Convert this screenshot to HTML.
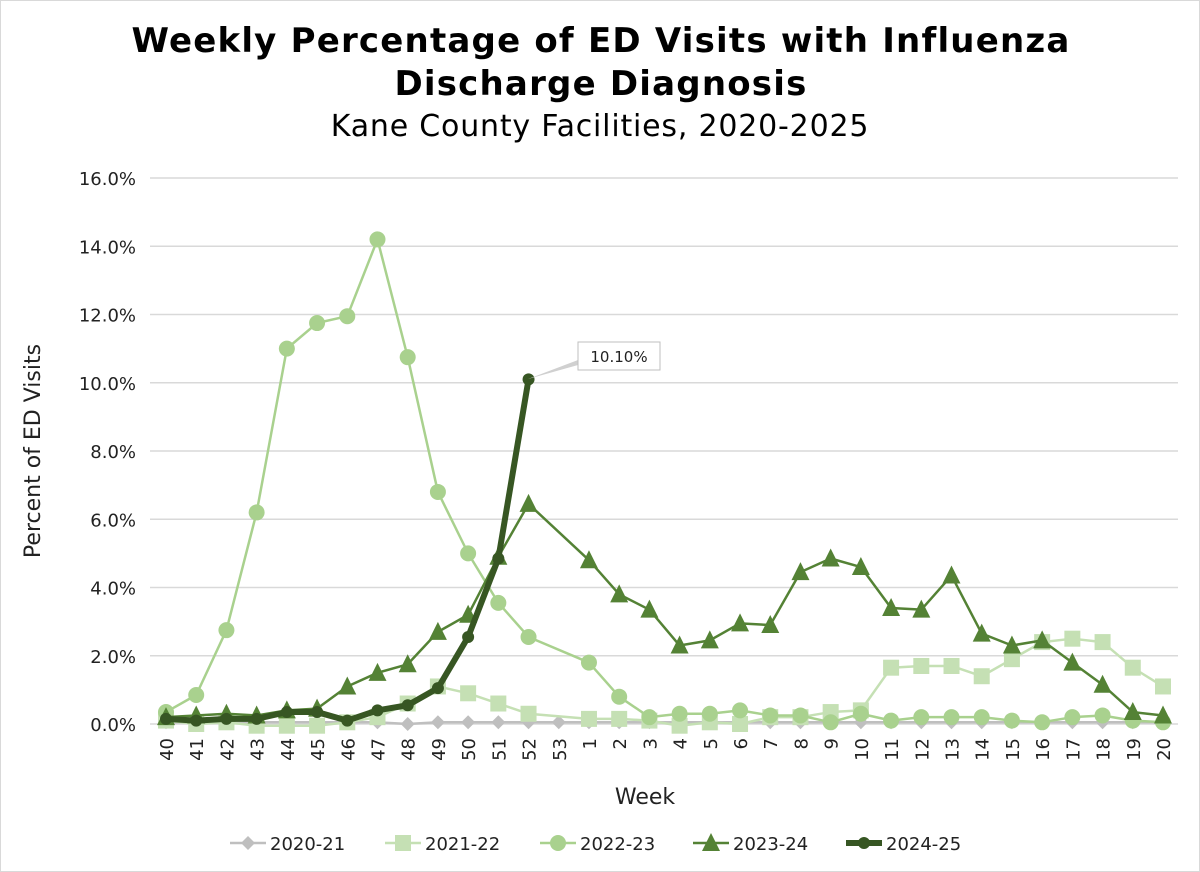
<!DOCTYPE html>
<html><head><meta charset="utf-8"><style>
html,body{margin:0;padding:0;background:#fff;width:1200px;height:872px;overflow:hidden}
svg text{font-family:"DejaVu Sans","Liberation Sans",sans-serif;fill:#222}
</style></head><body>
<svg id="chart" width="1200" height="872" xmlns="http://www.w3.org/2000/svg">
<rect x="0.5" y="0.5" width="1199" height="871" fill="#fff" stroke="#d9d9d9"/>
<text x="601" y="52" text-anchor="middle" font-size="34" font-weight="bold" letter-spacing="1.2" style="fill:#000">Weekly Percentage of ED Visits with Influenza</text>
<text x="601" y="95" text-anchor="middle" font-size="34" font-weight="bold" letter-spacing="1.2" style="fill:#000">Discharge Diagnosis</text>
<text x="600" y="136" text-anchor="middle" font-size="30" letter-spacing="0.8" style="fill:#000">Kane County Facilities, 2020-2025</text>
<text transform="translate(40,451) rotate(-90)" text-anchor="middle" font-size="22">Percent of ED Visits</text>
<text x="645" y="804" text-anchor="middle" font-size="22">Week</text>
<g id="grid"></g><g id="series"></g><g id="ticks"></g><g id="legend"></g>
<g>
<polygon points="528,379 578,360 578,365" fill="#d0d0d0"/>
<rect x="578" y="342" width="82" height="28" fill="#fff" stroke="#bfbfbf"/>
<text x="619" y="362" text-anchor="middle" font-size="15">10.10%</text>
</g>
</svg>
<script>
const weeks=["40","41","42","43","44","45","46","47","48","49","50","51","52","53","1","2","3","4","5","6","7","8","9","10","11","12","13","14","15","16","17","18","19","20"];
const yTicks=[0,2,4,6,8,10,12,14,16];
const s2021=[0.05,0.05,0.05,0.05,0.05,0.05,0.05,0.05,0.0,0.05,0.05,0.05,0.05,0.05,0.05,0.05,0.05,0.05,0.05,0.05,0.05,0.05,0.05,0.05,0.05,0.05,0.05,0.05,0.05,0.05,0.05,0.05,0.05,0.05];
const s2122=[0.1,0,0.05,-0.05,-0.05,-0.05,0.05,0.2,0.6,1.1,0.9,0.6,0.3,null,0.15,0.15,0.1,-0.05,0.05,0.0,0.2,0.2,0.35,0.4,1.65,1.7,1.7,1.4,1.9,2.4,2.5,2.4,1.65,1.1];
const s2223=[0.35,0.85,2.75,6.2,11.0,11.75,11.95,14.2,10.75,6.8,5.0,3.55,2.55,null,1.8,0.8,0.2,0.3,0.3,0.4,0.25,0.25,0.05,0.3,0.1,0.2,0.2,0.2,0.1,0.05,0.2,0.25,0.1,0.05];
const s2324=[0.2,0.25,0.3,0.25,0.4,0.45,1.1,1.5,1.75,2.7,3.2,4.9,6.45,null,4.8,3.8,3.35,2.3,2.45,2.95,2.9,4.45,4.85,4.6,3.4,3.35,4.35,2.65,2.3,2.45,1.8,1.15,0.35,0.25];
const s2425=[0.15,0.1,0.15,0.15,0.35,0.35,0.1,0.4,0.55,1.05,2.55,4.85,10.1];
const seriesNames=["2020-21","2021-22","2022-23","2023-24","2024-25"];
const NS="http://www.w3.org/2000/svg";
const x0=166,x1=1163,y0=724,yTop=178;
const xs=i=>x0+i*(x1-x0)/(weeks.length-1);
const ys=v=>y0-(v/16)*(y0-yTop);
function mk(tag,attrs,parent){const e=document.createElementNS(NS,tag);for(const k in attrs)e.setAttribute(k,attrs[k]);parent.appendChild(e);return e;}
const grid=document.getElementById('grid'),ticks=document.getElementById('ticks'),ser=document.getElementById('series'),leg=document.getElementById('legend');
yTicks.forEach(t=>{
 const l=mk('line',{x1:150,x2:1178,y1:ys(t),y2:ys(t),stroke:'#d9d9d9','stroke-width':1.5},grid);
 
 
 const tx=mk('text',{x:136,y:ys(t)+7,'text-anchor':'end','font-size':18},ticks);
 tx.textContent=t.toFixed(1)+'%';
 
 
});
weeks.forEach((w,i)=>{
 const tx=mk('text',{transform:`translate(${xs(i)+7},${738}) rotate(-90)`,'text-anchor':'end','font-size':18},ticks);
 tx.textContent=w;
 
 
});
function marker(type,x,y,color,size,g){
 if(type==='diamond')return mk('polygon',{points:`${x},${y-size} ${x+size},${y} ${x},${y+size} ${x-size},${y}`,fill:color},g);
 if(type==='square')return mk('rect',{x:x-size,y:y-size,width:2*size,height:2*size,fill:color},g);
 if(type==='circle')return mk('circle',{cx:x,cy:y,r:size,fill:color},g);
 if(type==='triangle')return mk('polygon',{points:`${x},${y-size-1} ${x+size},${y+size-1} ${x-size},${y+size-1}`,fill:color},g);
}
const defs=[
 {data:s2021,color:'#bfbfbf',m:'diamond',ms:7,w:2.5},
 {data:s2122,color:'#c5e0b4',m:'square',ms:8,w:2.5},
 {data:s2223,color:'#a9d18e',m:'circle',ms:8,w:2.5},
 {data:s2324,color:'#548235',m:'triangle',ms:9,w:2.5},
 {data:s2425,color:'#375623',m:'circle',ms:6,w:6}
];
defs.forEach((d,si)=>{
 const g=mk('g',{},ser);
 
 
 const all=[];d.data.forEach((v,i)=>{if(v!==null)all.push([xs(i),ys(v)]);});
 const p=mk('polyline',{points:all.map(q=>q.join(',')).join(' '),fill:'none',stroke:d.color,'stroke-width':d.w,'stroke-linejoin':'round'},g);
 
 
 d.data.forEach((v,i)=>{if(v===null)return;
  const m=marker(d.m,xs(i),ys(v),d.color,d.ms,g);
  
  
 });
});
const legX=[230,385,540,693,846];
defs.forEach((d,si)=>{
 const g=mk('g',{},leg);
 
 
 const lx=legX[si],ly=843;
 mk('line',{x1:lx,x2:lx+36,y1:ly,y2:ly,stroke:d.color,'stroke-width':d.w},g);
 marker(d.m,lx+18,ly,d.color,d.ms,g);
 const t=mk('text',{x:lx+40,y:ly+7,'font-size':18},g);
 t.textContent=seriesNames[si];
});
</script>
</body></html>
